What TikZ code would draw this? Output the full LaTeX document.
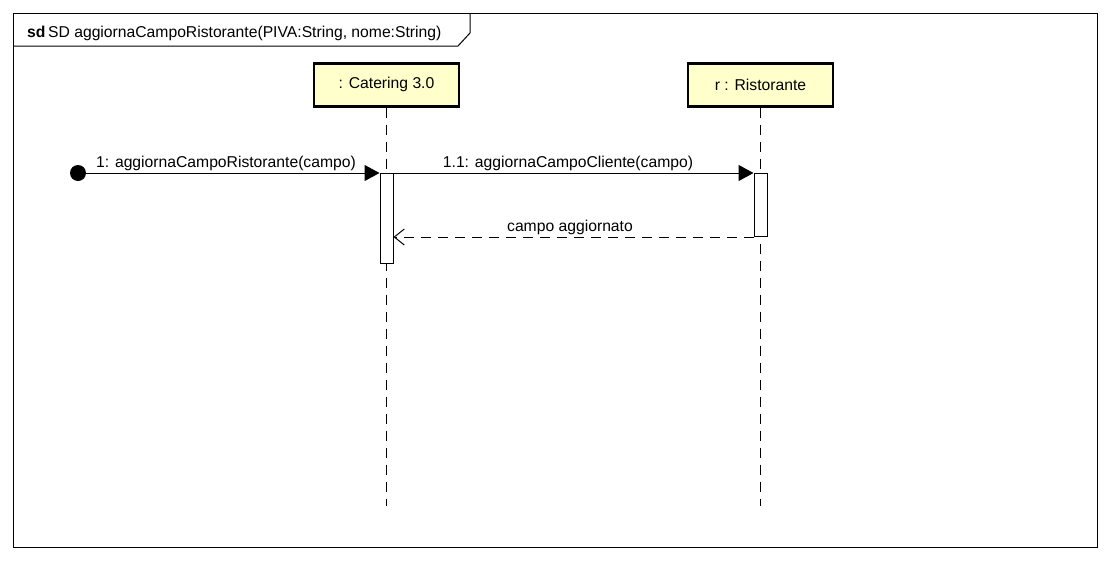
\documentclass[tikz,border=0pt]{standalone}
\usepackage{fontspec}
\setmainfont{Liberation Sans}
\usetikzlibrary{arrows.meta}
\definecolor{lifebox}{RGB}{255,255,204}
\tikzset{
  every node/.style={font=\fontsize{15.7}{18}\selectfont},
  frameline/.style={draw=black, line width=1pt},
  objbox/.style={draw=black, line width=2.5pt, fill=lifebox, minimum width=145pt, minimum height=43pt, inner sep=0pt, anchor=north},
  lifeline/.style={draw=black, line width=1pt, dash pattern=on 10pt off 7pt},
  actbox/.style={draw=black, line width=1pt, fill=white, minimum width=13pt, inner sep=0pt, anchor=north},
  syncmsg/.style={draw=black, line width=1pt, -{Triangle[length=15pt,width=16pt]}},
  retmsg/.style={draw=black, line width=1pt, dash pattern=on 10pt off 7pt, -{Straight Barb[length=10pt,width=16pt,line width=1pt]}},
  lbl/.style={inner sep=0pt, anchor=base},
  startdot/.style={circle, fill=black, minimum size=16pt, inner sep=0pt}
}
\begin{document}
\begin{tikzpicture}[x=1pt,y=-1pt]
\useasboundingbox (0,0) rectangle (1110,560);
\fill[white] (0,0) rectangle (1110,560);
% frame
\draw[frameline] (13,13) rectangle (1097,547);
\draw[frameline] (13,46) -- (458,46) -- (470,33) -- (470,13);
\node[lbl, anchor=base west] (title) at (27,37) {\textbf{sd}\,SD aggiornaCampoRistorante(PIVA:String, nome:String)};
% objects
\node[objbox] (cat) at (386.5,62) {: Catering 3.0};
\node[objbox] (ris) at (760.5,62) {r : Ristorante};
\coordinate (catend) at (386.5,506);
\coordinate (risend) at (760.5,506);
\draw[lifeline] (cat.south) -- (catend);
\draw[lifeline] (ris.south) -- (risend);
% activations
\node[actbox, minimum height=90pt] (act1) at (386.5,173) {};
\node[actbox, minimum height=63pt] (act2) at (760.5,173) {};
% start dot
\node[startdot] (start) at (78,173) {};
% messages
\draw[syncmsg] (start.center) -- (act1.north west);
\node[lbl] (m1) at (226,167) {1: aggiornaCampoRistorante(campo)};
\draw[syncmsg] (act1.north east) -- (act2.north west);
\node[lbl] (m11) at (568,167) {1.1: aggiornaCampoCliente(campo)};
\draw[retmsg] (act2.south west) -- (act1.east |- act2.south west);
\node[lbl] (m2) at (570,231) {campo aggiornato};
\end{tikzpicture}
\end{document}
